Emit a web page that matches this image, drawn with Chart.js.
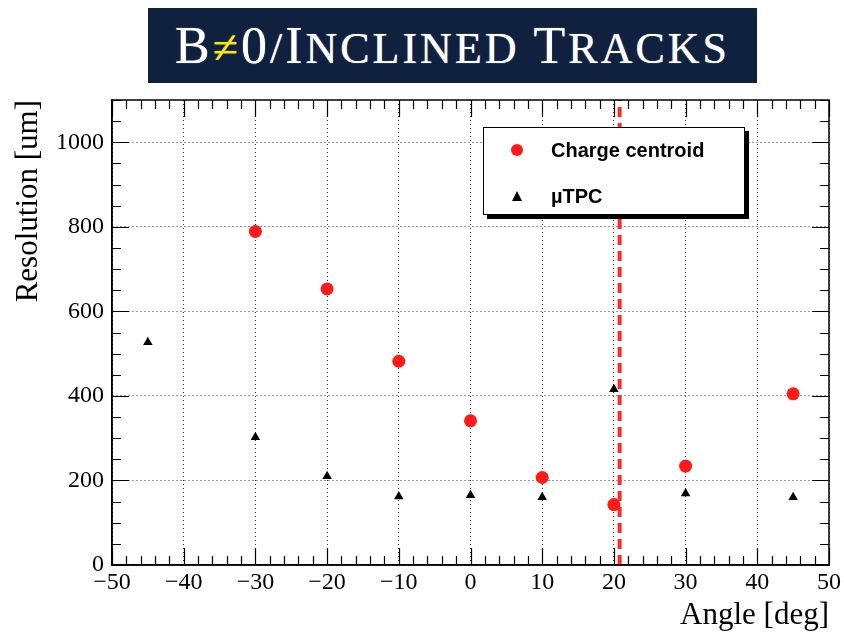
<!DOCTYPE html>
<html>
<head>
<meta charset="utf-8">
<script src="https://cdn.jsdelivr.net/npm/chart.js@4/dist/chart.umd.min.js"></script>
<style>
  html,body{margin:0;padding:0;background:#fff;}
  #wrap{position:relative;width:844px;height:634px;overflow:hidden;}
  #c{position:absolute;left:0;top:0;}
  #title{position:absolute;left:148px;top:8px;width:609px;height:75px;background:#10203f;
    color:#fff;font-family:"Liberation Serif","DejaVu Serif",serif;text-align:center;line-height:76px;
    white-space:nowrap;letter-spacing:3px;text-shadow:0 0 1px #c8d0e0;}
  #title .b{font-size:52px;}
  #title .s{font-size:44px;}
  #title .ne{color:#ffe600;font-size:46px;}
  #legend{position:absolute;left:483px;top:127px;width:260px;height:86px;background:#fff;
    border:1.5px solid #000;box-shadow:4px 4px 0 #000;font-family:"Liberation Sans",Arial,sans-serif;
    font-weight:bold;font-size:20px;color:#000;}
  .row{position:absolute;left:0;height:24px;line-height:24px;}
  .dot{position:absolute;left:27px;top:6px;width:12px;height:12px;border-radius:50%;background:#ff1a1a;}
  .tri{position:absolute;left:28px;top:7px;width:0;height:0;border-left:5px solid transparent;border-right:5px solid transparent;border-bottom:10px solid #000;}
  .lab{position:absolute;left:67px;top:0;}
</style>
</head>
<body>
<div id="wrap">
  <canvas id="c" width="844" height="634"></canvas>
  <div id="title"><span class="b">B</span><span class="ne">≠</span><span class="b">0</span><span class="s">/</span><span class="b">I</span><span class="s">NCLINED </span><span class="b">T</span><span class="s">RACKS</span></div>
  <div id="legend">
    <div class="row" style="top:10px;width:100%"><div class="dot"></div><span class="lab">Charge centroid</span></div>
    <div class="row" style="top:56px;width:100%"><div class="tri"></div><span class="lab">µTPC</span></div>
  </div>
</div>
<script>
// ---- data ----
const centroidAngles = [-30, -20, -10, 0, 10, 20, 30, 45];
const centroidRes    = [789, 653, 482, 341, 207, 143, 234, 405];
const tpcAngles      = [-45, -30, -20, -10, 0, 10, 20, 30, 45];
const tpcRes         = [527, 302, 210, 162, 165, 160, 416, 169, 160];
const cutAngle       = 20.8;
const cutRange       = [0, 1100];
const xTickValues    = [-50, -40, -30, -20, -10, 0, 10, 20, 30, 40, 50];
const xTickLabels    = ['−50', '−40', '−30', '−20', '−10', '0', '10', '20', '30', '40', '50'];
const yTickValues    = [0, 200, 400, 600, 800, 1000];
const yTickLabels    = ['0', '200', '400', '600', '800', '1000'];
const xMinorStep = 2, yMinorStep = 50;

const serif = '"Liberation Serif","DejaVu Serif",serif';

const frame = {
  id: 'rootFrame',
  afterDatasetsDraw(chart) {
    const {ctx, chartArea: a, scales: {x, y}} = chart;
    ctx.save();
    ctx.strokeStyle = '#000';
    ctx.lineWidth = 1.5;
    ctx.strokeRect(a.left, a.top, a.right - a.left, a.bottom - a.top);
    ctx.lineWidth = 1.2;
    ctx.beginPath();
    for (let v = x.min; v <= x.max + 1e-9; v += xMinorStep) {
      const px = Math.round(x.getPixelForValue(v)) + 0.5;
      const major = xTickValues.includes(Math.round(v));
      const L = major ? 17 : 9;
      ctx.moveTo(px, a.bottom); ctx.lineTo(px, a.bottom - L);
      ctx.moveTo(px, a.top); ctx.lineTo(px, a.top + L);
    }
    for (let v = y.min; v <= y.max + 1e-9; v += yMinorStep) {
      const py = Math.round(y.getPixelForValue(v)) + 0.5;
      const major = yTickValues.includes(Math.round(v));
      const L = major ? 17 : 9;
      ctx.moveTo(a.left, py); ctx.lineTo(a.left + L, py);
      ctx.moveTo(a.right, py); ctx.lineTo(a.right - L, py);
    }
    ctx.stroke();
    ctx.restore();
  }
};

new Chart(document.getElementById('c'), {
  type: 'scatter',
  data: {
    datasets: [
      {
        label: 'Charge centroid',
        data: centroidAngles.map((a, i) => ({x: a, y: centroidRes[i]})),
        pointStyle: 'circle', pointRadius: 6.5, pointHoverRadius: 6.5,
        backgroundColor: '#ff1a1a', borderColor: '#ff1a1a', borderWidth: 0, order: 1
      },
      {
        label: 'µTPC',
        data: tpcAngles.map((a, i) => ({x: a, y: tpcRes[i]})),
        pointStyle: 'triangle', pointRadius: 5.5, pointHoverRadius: 5.5,
        backgroundColor: '#000', borderColor: '#000', borderWidth: 0, order: 0
      },
      {
        label: 'cut',
        type: 'line',
        data: cutRange.map(v => ({x: cutAngle, y: v})),
        showLine: true, pointRadius: 0, borderColor: '#ff2a2a', borderWidth: 4,
        borderDash: [10, 6], fill: false, order: 10
      }
    ]
  },
  options: {
    responsive: false, animation: false, devicePixelRatio: 1,
    layout: {padding: {top: 100, right: 14, left: 0, bottom: 0}},
    plugins: {legend: {display: false}, tooltip: {enabled: false}, title: {display: false}},
    scales: {
      x: {
        type: 'linear', min: -50, max: 50,
        afterBuildTicks: s => { s.ticks = xTickValues.map(v => ({value: v})); },
        afterFit: s => { s.height = 69; },
        ticks: {
          callback: (v) => xTickLabels[xTickValues.indexOf(v)],
          font: {family: serif, size: 24}, color: '#000', padding: 3, maxRotation: 0, autoSkip: false
        },
        grid: {color: '#333', lineWidth: 1, drawTicks: false, tickLength: 0},
        border: {display: true, color: '#000', width: 1.5, dash: [1, 3]},
        title: {display: true, text: 'Angle [deg]', align: 'end', font: {family: serif, size: 31},
                color: '#000', padding: {top: 0, bottom: 0}}
      },
      y: {
        type: 'linear', min: 0, max: 1100,
        afterBuildTicks: s => { s.ticks = yTickValues.map(v => ({value: v})); },
        afterFit: s => { s.width = 112; },
        ticks: {
          callback: (v) => yTickLabels[yTickValues.indexOf(v)],
          font: {family: serif, size: 24}, color: '#000', padding: 8, autoSkip: false
        },
        grid: {color: '#333', lineWidth: 1, drawTicks: false, tickLength: 0},
        border: {display: true, color: '#000', width: 1.5, dash: [1, 3]},
        title: {display: true, text: 'Resolution [um]', align: 'end', font: {family: serif, size: 31},
                color: '#000', padding: {top: 10, bottom: 0}}
      }
    }
  },
  plugins: [frame]
});
</script>
</body>
</html>
